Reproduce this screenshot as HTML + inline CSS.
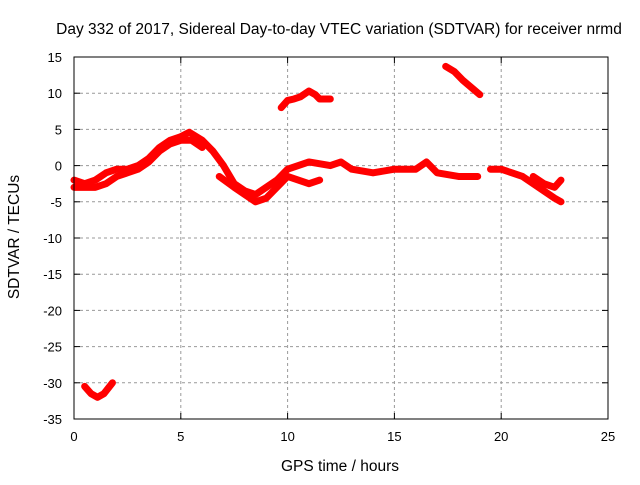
<!DOCTYPE html>
<html><head><meta charset="utf-8"><style>
body{margin:0;background:#fff}
svg{font-family:"Liberation Sans",sans-serif;font-size:13px}
.big{font-size:15.5px}
</style></head><body>
<svg width="640" height="480">
<text class="big" x="339" y="34" text-anchor="middle">Day 332 of 2017, Sidereal Day-to-day VTEC variation (SDTVAR) for receiver nrmd</text>
<text class="big" x="340" y="471" text-anchor="middle">GPS time / hours</text>
<text class="big" transform="translate(19,237) rotate(-90)" text-anchor="middle">SDTVAR / TECUs</text>
<g id="grid"></g>
<g id="ticks"></g>
<g id="series"></g>
<rect x="74" y="57" width="534" height="362" fill="none" stroke="#000"/>
</svg>
<script>
const xTicks=[0,5,10,15,20,25];
const yTicks=[15,10,5,0,-5,-10,-15,-20,-25,-30,-35];
const seriesMainUpper=[[0,-2],[0.5,-2.5],[1,-2],[1.5,-1],[2,-0.5],[2.5,-0.5],[3,0],[3.5,1],[4,2.5],[4.5,3.5],[5,4],[5.4,4.6],[6,3.5],[6.5,2],[7,0],[7.5,-2.5],[8,-3.5],[8.5,-4],[9,-3],[9.5,-2],[10,-0.5],[10.5,0],[11,0.5],[12,0],[12.5,0.5],[13,-0.5],[14,-1],[15,-0.5],[16,-0.5],[16.5,0.5],[17,-1],[18,-1.5],[18.9,-1.5]];
const seriesMainLower=[[0,-3],[0.5,-3],[1,-3],[1.5,-2.5],[2,-1.5],[2.5,-1],[3,-0.5],[3.5,0.5],[4,2],[4.5,3],[5,3.5],[5.5,3.5],[6,2.5]];
const seriesDip=[[6.8,-1.5],[7.5,-3],[8,-4],[8.5,-5],[9,-4.5],[9.5,-3],[10,-1.5],[10.5,-2],[11,-2.5],[11.5,-2]];
const seriesLate=[[19.5,-0.5],[20,-0.5],[20.5,-1],[21,-1.5],[21.5,-2.5],[22,-3.5],[22.5,-4.5],[22.8,-5]];
const seriesLateLoop=[[21.5,-1.5],[22,-2.5],[22.5,-3],[22.8,-2]];
const seriesMid=[[9.7,8],[10,9],[10.3,9.2],[10.6,9.5],[11,10.3],[11.3,9.8],[11.5,9.2],[12,9.2]];
const seriesHigh=[[17.4,13.7],[17.8,13],[18.2,11.8],[18.6,10.8],[19,9.8]];
const seriesLow=[[0.5,-30.5],[0.8,-31.5],[1.1,-32],[1.4,-31.5],[1.8,-30]];
const allSeries=[seriesMainUpper,seriesMainLower,seriesDip,seriesLate,seriesLateLoop,seriesMid,seriesHigh,seriesLow];
const NS="http://www.w3.org/2000/svg";
const sx=v=>74+v*534/25;
const sy=v=>57+(15-v)*362/50;
const grid=document.getElementById('grid'),ticks=document.getElementById('ticks'),ser=document.getElementById('series');
function mk(t,a,p){const e=document.createElementNS(NS,t);for(const k in a)e.setAttribute(k,a[k]);p.appendChild(e);return e;}
xTicks.forEach(v=>{
 const x=sx(v);
 if(v>0&&v<25){const g=mk('line',{x1:x,x2:x,y1:57,y2:419,stroke:'#999','stroke-dasharray':'3,3'},grid);
 
 }
 mk('line',{x1:x,x2:x,y1:419,y2:413,stroke:'#000'},ticks);
 mk('line',{x1:x,x2:x,y1:57,y2:63,stroke:'#000'},ticks);
 const t=mk('text',{x:x,y:441,'text-anchor':'middle'},ticks);t.textContent=v;
 
 
});
yTicks.forEach(v=>{
 const y=sy(v);
 if(v<15&&v>-35){const g=mk('line',{x1:74,x2:608,y1:y,y2:y,stroke:'#999','stroke-dasharray':'3,3'},grid);
 
 }
 mk('line',{x1:74,x2:80,y1:y,y2:y,stroke:'#000'},ticks);
 mk('line',{x1:608,x2:602,y1:y,y2:y,stroke:'#000'},ticks);
 const t=mk('text',{x:62,y:y+5,'text-anchor':'end'},ticks);t.textContent=v;
 
 
});
allSeries.forEach(s=>{
 const p=mk('polyline',{points:s.map(d=>sx(d[0])+','+sy(d[1])).join(' '),fill:'none',stroke:'#f00','stroke-width':7,'stroke-linejoin':'round','stroke-linecap':'round'},ser);
 
 
});
</script>
</body></html>
